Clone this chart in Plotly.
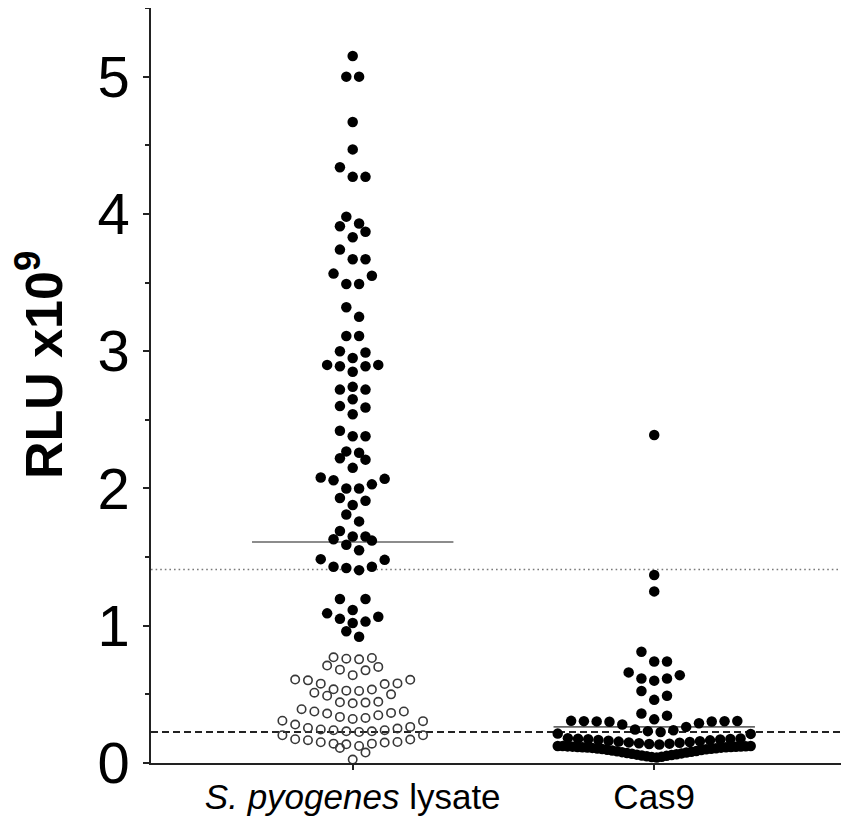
import numpy as np
import plotly.graph_objects as go

# ---------------- data (RLU x10^9) ----------------
categories = ["<i>S. pyogenes</i> lysate", "Cas9"]

# S. pyogenes lysate, values above cutoff (filled)
spy_filled = [
    0.92, 0.96,
    1.02, 1.03, 1.05, 1.065, 1.09,
    1.115, 1.195, 1.195,
    1.405, 1.42, 1.43, 1.43, 1.48, 1.485,
    1.55, 1.59, 1.62, 1.63,
    1.65, 1.65, 1.69,
    1.76, 1.81,
    1.88, 1.91, 1.93,
    2.00, 2.00, 2.03, 2.06, 2.07, 2.08,
    2.15, 2.21, 2.22,
    2.26, 2.27,
    2.38, 2.38, 2.42,
    2.54, 2.59, 2.60,
    2.65, 2.72, 2.72,
    2.74,
    2.85, 2.89, 2.89, 2.90, 2.90,
    2.95, 2.99, 3.00,
    3.11, 3.11,
    3.25, 3.32,
    3.49, 3.49, 3.55, 3.565,
    3.67, 3.67, 3.74,
    3.83, 3.87, 3.91,
    3.93, 3.98,
    4.27, 4.27, 4.34,
    4.47,
    4.67,
    5.00, 5.00,
    5.15,
]

# S. pyogenes lysate, values below cutoff (open)
spy_open = [
    0.025, 0.076, 0.11,
    0.124, 0.136, 0.141, 0.141, 0.149, 0.151, 0.153, 0.166, 0.171, 0.173, 0.202, 0.202,
    0.226, 0.231, 0.231, 0.239, 0.239, 0.244, 0.251, 0.255, 0.263, 0.280, 0.305, 0.308,
    0.321, 0.328, 0.336, 0.348, 0.360, 0.365, 0.375, 0.375, 0.392,
    0.435, 0.44, 0.442, 0.446, 0.49, 0.50, 0.512,
    0.525, 0.527, 0.535, 0.537, 0.575, 0.578, 0.58, 0.602, 0.606, 0.608,
    0.64, 0.675, 0.68, 0.70, 0.71,
    0.755, 0.76, 0.765, 0.77,
]

# Cas9
cas9 = [
    # dense lower band
    0.040, 0.043, 0.046, 0.049, 0.052, 0.055, 0.058, 0.061, 0.064, 0.067,
    0.070, 0.073, 0.076, 0.079, 0.082, 0.085, 0.088, 0.091, 0.094, 0.097,
    0.100, 0.102, 0.104, 0.106, 0.108, 0.110, 0.112, 0.113, 0.114, 0.115,
    0.116, 0.117, 0.118, 0.119, 0.120, 0.121, 0.122, 0.123, 0.124, 0.124,
    # second band
    0.135, 0.138, 0.141, 0.144, 0.147, 0.150, 0.153, 0.156, 0.159, 0.162,
    0.165, 0.168, 0.171, 0.173, 0.175, 0.177, 0.179, 0.181, 0.212, 0.214,
    # third band
    0.226, 0.232, 0.238, 0.244, 0.263, 0.280, 0.290, 0.300, 0.302, 0.303,
    0.304, 0.305, 0.306, 0.307,
    # upper points
    0.318, 0.345, 0.36,
    0.46, 0.49, 0.525,
    0.60, 0.615, 0.615, 0.64, 0.66,
    0.74, 0.74, 0.81,
    1.25, 1.37, 2.39,
]

center_line = [1.61, 0.263]      # horizontal summary line per group
dotted_cutoff = 1.41
dashed_cutoff = 0.226

y_ticks = [0, 1, 2, 3, 4, 5]
y_title = "<b>RLU x10<sup>9</sup></b>"

# ---------------- layout helpers ----------------
X_RANGE = [-0.669, 1.646]
BIN_H = 0.086          # y-distance grouping points into one row
STEP = 0.0424          # horizontal spacing between symbols (x units)
MAX_SPAN = 0.64        # max row width before compressing


def column_scatter(values, center):
    v = np.sort(np.asarray(values, dtype=float))
    xs, ys = [], []
    i = 0
    while i < len(v):
        j = i
        while j < len(v) and v[j] - v[i] < BIN_H:
            j += 1
        grp = v[i:j]
        n = len(grp)
        step = STEP if (n - 1) * STEP <= MAX_SPAN or n == 1 else MAX_SPAN / (n - 1)
        slots = sorted([k - (n - 1) / 2 for k in range(n)], key=lambda o: (abs(o), -o))
        for val, o in zip(grp, slots):
            xs.append(center + o * step)
            ys.append(val)
        i = j
    return xs, ys


fig = go.Figure()

# reference lines
fig.add_trace(go.Scatter(x=X_RANGE, y=[dotted_cutoff] * 2, mode="lines",
                         line=dict(color="#7a7a7a", width=1.6, dash="1.6px,3px"),
                         hoverinfo="skip", showlegend=False))
fig.add_trace(go.Scatter(x=X_RANGE, y=[dashed_cutoff] * 2, mode="lines",
                         line=dict(color="#222222", width=2, dash="7px,4px"),
                         hoverinfo="skip", showlegend=False))

# summary lines
for i, val in enumerate(center_line):
    fig.add_trace(go.Scatter(x=[i - 0.334, i + 0.334], y=[val, val], mode="lines",
                             line=dict(color="#666666", width=1.6),
                             hoverinfo="skip", showlegend=False))

xo, yo = column_scatter(spy_open, 0)
fig.add_trace(go.Scatter(x=xo, y=yo, mode="markers", showlegend=False,
                         marker=dict(symbol="circle-open", size=8.4, color="#383838",
                                     line=dict(width=1.6, color="#383838"))))
xf, yf = column_scatter(spy_filled, 0)
fig.add_trace(go.Scatter(x=xf, y=yf, mode="markers", showlegend=False,
                         marker=dict(symbol="circle", size=10.5, color="black",
                                     line=dict(width=0))))
xc, yc = column_scatter(cas9, 1)
fig.add_trace(go.Scatter(x=xc, y=yc, mode="markers", showlegend=False,
                         marker=dict(symbol="circle", size=10.5, color="black",
                                     line=dict(width=0))))

FONT = "Liberation Sans, Arial, sans-serif"

fig.update_layout(
    width=841, height=811,
    margin=dict(l=143, r=0, t=0, b=56, autoexpand=False),
    paper_bgcolor="white", plot_bgcolor="white",
    font=dict(family=FONT, color="black"),
    xaxis=dict(range=X_RANGE, tickvals=[0, 1], ticktext=categories,
               showgrid=False, zeroline=False, showline=True,
               linecolor="#222", linewidth=1.5,
               ticks="outside", ticklen=5, tickwidth=1.5, tickcolor="#222",
               ticklabelstandoff=-3,
               tickfont=dict(size=35, family=FONT, color="black")),
    yaxis=dict(range=[0, 5.5], tickvals=y_ticks,
               showgrid=False, zeroline=False, showline=True,
               linecolor="#222", linewidth=1.5,
               ticks="outside", ticklen=6, tickwidth=1.5, tickcolor="#222",
               tickfont=dict(size=58, family=FONT, color="black"),
               ticklabelstandoff=2,
               minor=dict(dtick=0.5, ticks="outside", ticklen=4, tickwidth=1.5,
                          tickcolor="#222")),
    annotations=[dict(text=y_title, textangle=-90, showarrow=False,
                      xref="paper", yref="paper", x=0, y=0.527,
                      xanchor="center", yanchor="middle", xshift=-111,
                      font=dict(size=52, family=FONT, color="black"))],
)

fig.write_html("out.html")
